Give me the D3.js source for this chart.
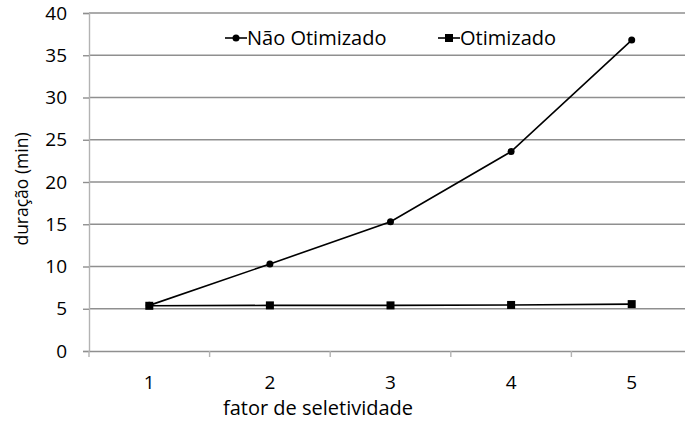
<!DOCTYPE html>
<html>
<head>
<meta charset="utf-8">
<script src="https://cdn.jsdelivr.net/npm/d3@7"></script>
<style>
  html, body { margin: 0; padding: 0; background: #fff; }
  svg { display: block; font-family: "Open Sans", sans-serif; }
</style>
</head>
<body>
<svg id="chart" width="685" height="423"></svg>
<script>
// Execution time of the query for each selectivity factor
const categories = ["1", "2", "3", "4", "5"];
const naoOtimizado = [5.4, 10.3, 15.3, 23.6, 36.8];
const otimizado = [5.35, 5.4, 5.4, 5.45, 5.55];
const yTicks = [0, 5, 10, 15, 20, 25, 30, 35, 40];
const seriesNames = ["Não Otimizado", "Otimizado"];

const svg = d3.select("#chart");
const plot = { left: 89, right: 692, top: 13, bottom: 351 };
const tickFs = 19, titleFs = 20, legendFs = 20, yTitleFs = 17.5;

const x = d3.scaleBand().domain(categories).range([plot.left, plot.right]);
const y = d3.scaleLinear().domain([0, 40]).range([plot.bottom, plot.top]);
const cx = c => x(c) + x.bandwidth() / 2;

// horizontal gridlines
svg.append("g")
  .selectAll("line")
  .data(yTicks.filter(t => t > 0))
  .join("line")
  .attr("x1", plot.left).attr("x2", plot.right)
  .attr("y1", d => y(d)).attr("y2", d => y(d))
  .attr("stroke", "#8f8f8f").attr("stroke-width", 1.4);

// y axis
const yAxis = svg.append("g")
  .attr("transform", `translate(${plot.left},0)`)
  .call(d3.axisLeft(y).tickValues(yTicks).tickSize(6).tickPadding(16));
yAxis.select(".domain").attr("stroke", "#b3b3b3").attr("stroke-width", 1.4);
yAxis.selectAll(".tick line").attr("stroke", "#8f8f8f").attr("stroke-width", 1.4);
yAxis.selectAll(".tick text")
  .attr("font-size", tickFs).attr("font-family", "Open Sans").attr("fill", "#000");

// x axis with ticks at category boundaries
const xAxis = svg.append("g")
  .attr("transform", `translate(0,${plot.bottom})`)
  .call(d3.axisBottom(x).tickSize(0).tickPadding(25));
xAxis.select(".domain").attr("stroke", "#8f8f8f").attr("stroke-width", 1.4);
xAxis.selectAll(".tick text")
  .attr("font-size", tickFs).attr("font-family", "Open Sans").attr("fill", "#000");
xAxis.append("g")
  .selectAll("line")
  .data(categories.map(c => x(c)).concat([plot.right]))
  .join("line")
  .attr("x1", d => d).attr("x2", d => d)
  .attr("y1", 0).attr("y2", 6)
  .attr("stroke", "#b3b3b3").attr("stroke-width", 1.4);

// axis titles
svg.append("text")
  .attr("x", 318).attr("y", 415)
  .attr("text-anchor", "middle")
  .attr("font-size", titleFs)
  .text("fator de seletividade");

svg.append("text")
  .attr("transform", "translate(28,189) rotate(-90)")
  .attr("text-anchor", "middle")
  .attr("font-size", yTitleFs)
  .text("duração (min)");

const line = d3.line().x((d, i) => cx(categories[i])).y(d => y(d));

// Não Otimizado series
svg.append("path")
  .datum(naoOtimizado)
  .attr("d", line)
  .attr("fill", "none").attr("stroke", "#000").attr("stroke-width", 1.6);
svg.append("g")
  .selectAll("circle")
  .data(naoOtimizado)
  .join("circle")
  .attr("cx", (d, i) => cx(categories[i]))
  .attr("cy", d => y(d))
  .attr("r", 3.5)
  .attr("fill", "#000");

// Otimizado series
svg.append("path")
  .datum(otimizado)
  .attr("d", line)
  .attr("fill", "none").attr("stroke", "#000").attr("stroke-width", 1.6);
svg.append("g")
  .selectAll("rect")
  .data(otimizado)
  .join("rect")
  .attr("x", (d, i) => cx(categories[i]) - 4)
  .attr("y", d => y(d) - 4)
  .attr("width", 8).attr("height", 8)
  .attr("fill", "#000");

// legend
const legend = svg.append("g");
const l1 = legend.append("g").attr("transform", "translate(225,38)");
l1.append("line").attr("x1", 0).attr("x2", 22).attr("stroke", "#000").attr("stroke-width", 1.6);
l1.append("circle").attr("cx", 11).attr("r", 3.5).attr("fill", "#000");
l1.append("text").attr("x", 22).attr("dy", "0.35em").attr("font-size", legendFs).text(seriesNames[0]);

const l2 = legend.append("g").attr("transform", "translate(438,38)");
l2.append("line").attr("x1", 0).attr("x2", 22).attr("stroke", "#000").attr("stroke-width", 1.6);
l2.append("rect").attr("x", 7).attr("y", -4).attr("width", 8).attr("height", 8).attr("fill", "#000");
l2.append("text").attr("x", 22).attr("dy", "0.35em").attr("font-size", legendFs).text(seriesNames[1]);
</script>
</body>
</html>
